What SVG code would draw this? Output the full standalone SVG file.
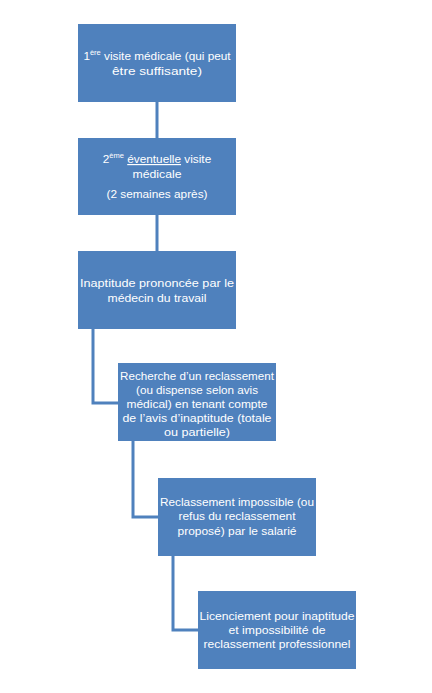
<svg xmlns="http://www.w3.org/2000/svg" width="432" height="693" viewBox="0 0 432 693">
<style>
.box{fill:#4F81BD;}
.t{font-family:"Liberation Sans",Arial,sans-serif;font-size:11.8px;fill:#ffffff;text-anchor:middle;}
.sup{font-size:7.5px;}
.conn{fill:none;stroke:#4F81BD;stroke-width:3;}
</style>
<rect width="432" height="693" fill="#ffffff"/>
<g id="connectors">
<path class="conn" d="M157 102 V138"/>
<path class="conn" d="M157 215 V251"/>
<path class="conn" d="M93 329 V403 H118"/>
<path class="conn" d="M133 441 V517 H158"/>
<path class="conn" d="M173 556 V630 H198"/>
</g>
<g id="node1">
<rect class="box" x="78" y="24" width="158" height="78"/>
<text class="t" x="157" y="60">1<tspan class="sup" dy="-5">ère</tspan><tspan dy="5"> visite médicale (qui peut</tspan></text>
<text class="t" x="157" y="75" textLength="90" lengthAdjust="spacingAndGlyphs">être suffisante)</text>
</g>
<g id="node2">
<rect class="box" x="78" y="138" width="158" height="77"/>
<text class="t" x="157" y="163">2<tspan class="sup" dy="-5">ème</tspan><tspan dy="5"> </tspan><tspan text-decoration="underline">éventuelle</tspan> visite</text>
<text class="t" x="157" y="178" textLength="49" lengthAdjust="spacingAndGlyphs">médicale</text>
<text class="t" x="157" y="198" textLength="101" lengthAdjust="spacingAndGlyphs">(2 semaines après)</text>
</g>
<g id="node3">
<rect class="box" x="78" y="251" width="158" height="78"/>
<text class="t" x="157" y="287" textLength="154" lengthAdjust="spacingAndGlyphs">Inaptitude prononcée par le</text>
<text class="t" x="157" y="302" textLength="99" lengthAdjust="spacingAndGlyphs">médecin du travail</text>
</g>
<g id="node4">
<rect class="box" x="118" y="363" width="158" height="78"/>
<text class="t" x="197" y="380" textLength="154" lengthAdjust="spacingAndGlyphs">Recherche d’un reclassement</text>
<text class="t" x="197" y="394" textLength="122" lengthAdjust="spacingAndGlyphs">(ou dispense selon avis</text>
<text class="t" x="197" y="408" textLength="141" lengthAdjust="spacingAndGlyphs">médical) en tenant compte</text>
<text class="t" x="197" y="422" textLength="149" lengthAdjust="spacingAndGlyphs">de l’avis d’inaptitude (totale</text>
<text class="t" x="197" y="436" textLength="66" lengthAdjust="spacingAndGlyphs">ou partielle)</text>
</g>
<g id="node5">
<rect class="box" x="158" y="478" width="158" height="78"/>
<text class="t" x="237" y="506" textLength="154" lengthAdjust="spacingAndGlyphs">Reclassement impossible (ou</text>
<text class="t" x="237" y="520" textLength="117" lengthAdjust="spacingAndGlyphs">refus du reclassement</text>
<text class="t" x="237" y="535" textLength="119" lengthAdjust="spacingAndGlyphs">proposé) par le salarié</text>
</g>
<g id="node6">
<rect class="box" x="198" y="591" width="158" height="78"/>
<text class="t" x="277" y="620" textLength="155" lengthAdjust="spacingAndGlyphs">Licenciement pour inaptitude</text>
<text class="t" x="277" y="634" textLength="97" lengthAdjust="spacingAndGlyphs">et impossibilité de</text>
<text class="t" x="277" y="648" textLength="147" lengthAdjust="spacingAndGlyphs">reclassement professionnel</text>
</g>
</svg>
